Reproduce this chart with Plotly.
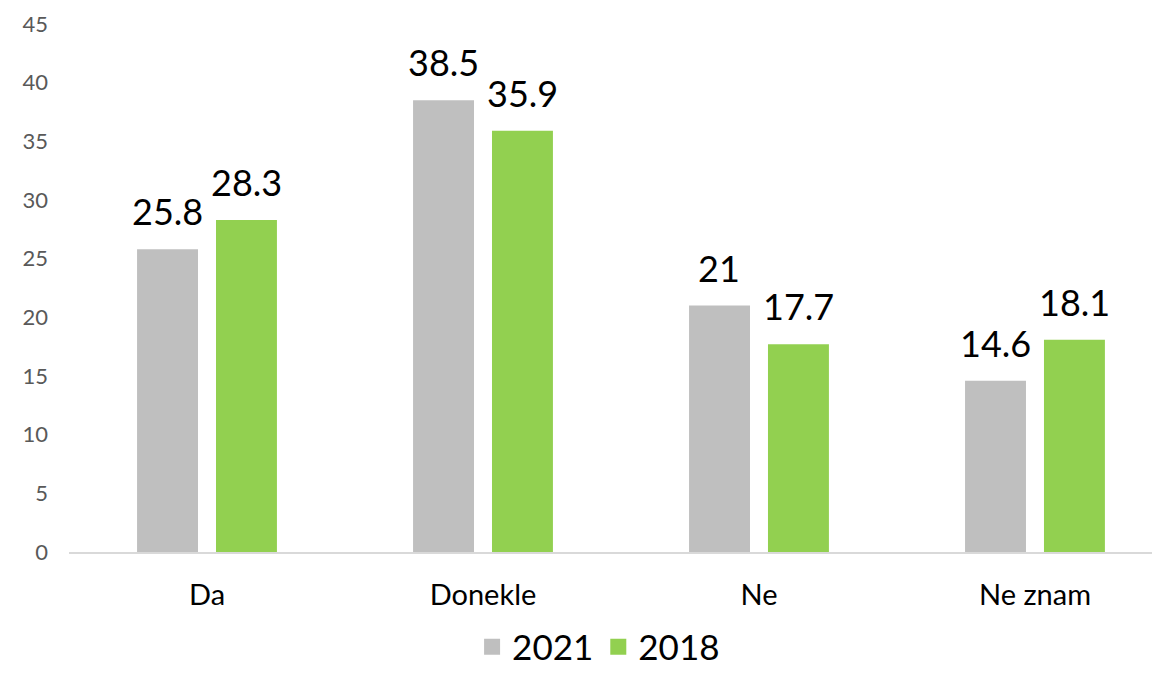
import plotly.graph_objects as go

categories = ["Da", "Donekle", "Ne", "Ne znam"]
series_names = ["2021", "2018"]
values_2021 = [25.8, 38.5, 21, 14.6]
values_2018 = [28.3, 35.9, 17.7, 18.1]
colors = ["#BFBFBF", "#92D050"]
y_ticks = [0, 5, 10, 15, 20, 25, 30, 35, 40, 45]

FONT = "Lato, 'Open Sans', sans-serif"

fig = go.Figure()
for name, vals, col in zip(series_names, [values_2021, values_2018], colors):
    fig.add_trace(go.Bar(
        x=categories, y=vals, name=name, marker_color=col,
        marker_line_width=0, showlegend=False,
    ))
    # legend proxies with larger square symbols
    fig.add_trace(go.Scatter(
        x=[None], y=[None], mode="markers", name=name,
        marker=dict(symbol="square", size=22, color=col),
        showlegend=True,
    ))

annotations = []
for vals, shift in zip([values_2021, values_2018], [-39.5, 39.5]):
    for c, v in zip(categories, vals):
        annotations.append(dict(
            x=c, y=v, text=f"{v:g}", showarrow=False,
            xanchor="center", yanchor="bottom", xshift=shift, yshift=14,
            font=dict(family=FONT, size=36, color="#000000"),
        ))

fig.update_layout(
    width=1144, height=659,
    margin=dict(l=61, r=0, t=16, b=115, autoexpand=False),
    paper_bgcolor="white", plot_bgcolor="white",
    barmode="group", bargap=0.428, bargroupgap=0.228,
    font=dict(family=FONT),
    annotations=annotations,
    legend=dict(
        orientation="h", x=0.489, xanchor="center", y=-0.18, yanchor="middle",
        bgcolor="rgba(0,0,0,0)",
        font=dict(family=FONT, size=35, color="#000000"),
        itemsizing="trace", itemwidth=30, traceorder="normal",
        tracegroupgap=0, borderwidth=0,
    ),
)
fig.update_xaxes(
    type="category", range=[-0.5, 3.424], automargin=False,
    showline=True, linecolor="#D9D9D9", linewidth=2,
    showgrid=False, zeroline=False, ticks="",
    tickfont=dict(family=FONT, size=29, color="#000000"),
    ticklabelstandoff=16,
)
fig.update_yaxes(
    range=[0, 45], tickvals=y_ticks, showgrid=False, zeroline=False,
    showline=False, ticks="", automargin=False,
    tickfont=dict(family=FONT, size=22, color="#595959"),
    ticklabelstandoff=20,
)

fig.write_html("out.html")
